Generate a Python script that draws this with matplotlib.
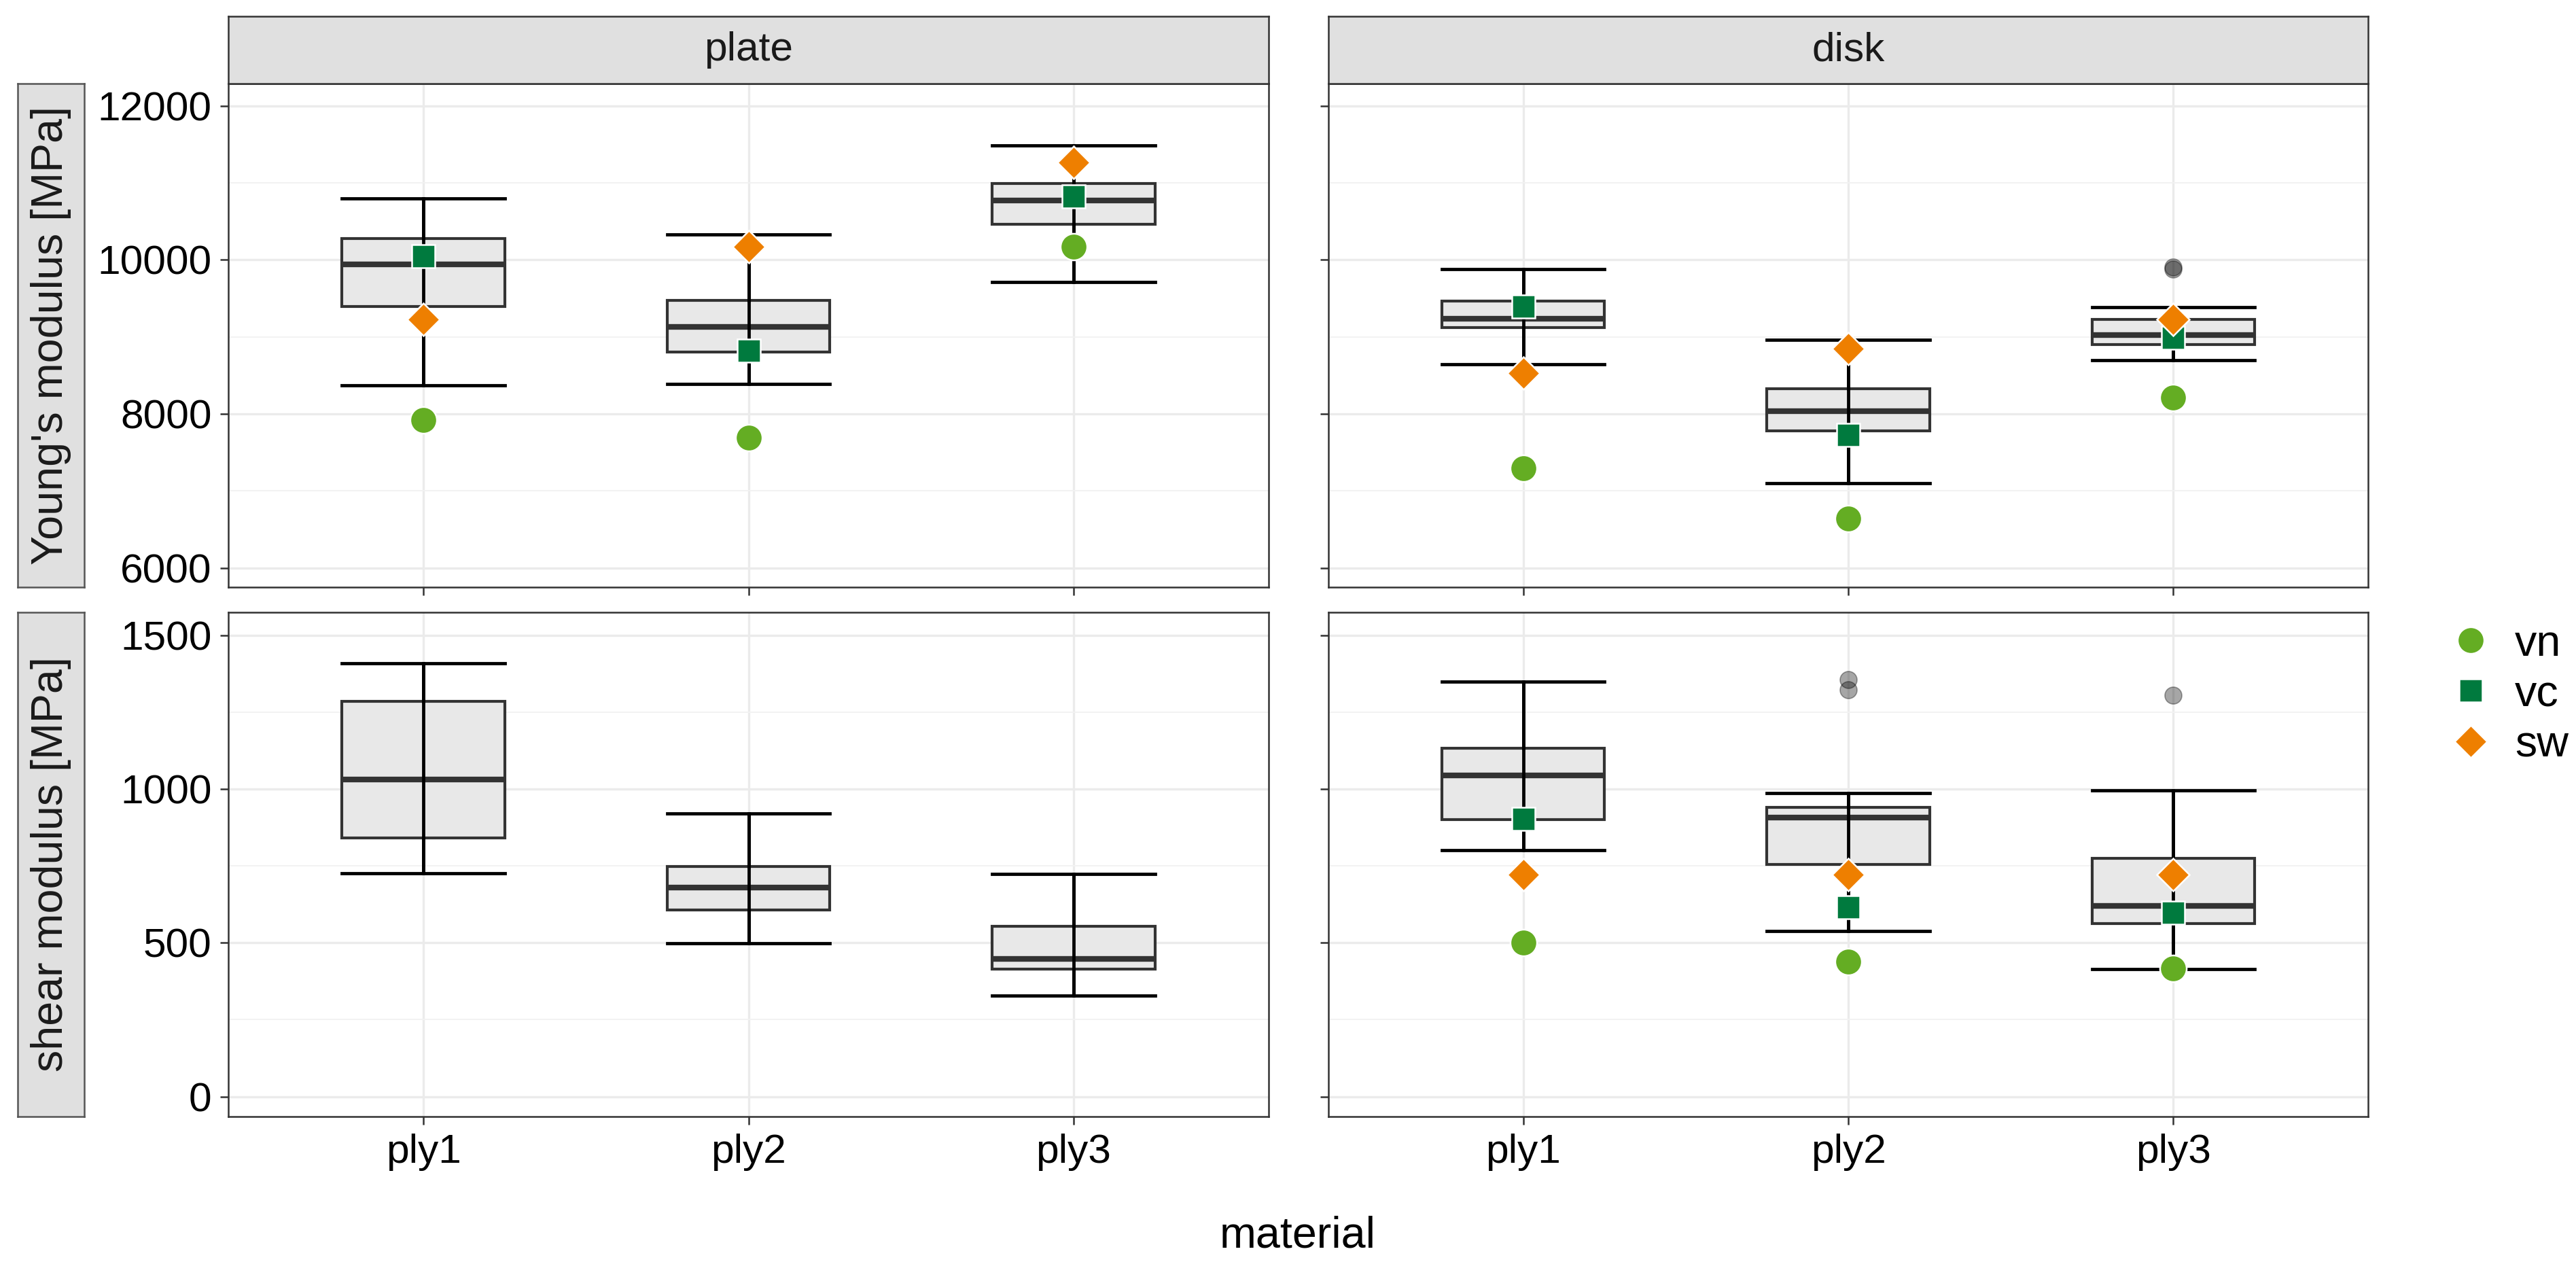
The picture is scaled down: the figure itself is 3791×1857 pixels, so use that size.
import matplotlib
matplotlib.use("Agg")
import matplotlib.pyplot as plt
from matplotlib.lines import Line2D
from matplotlib.ticker import MultipleLocator, FixedLocator

plt.rcParams['font.family'] = ['Liberation Sans', 'DejaVu Sans']

# ---------------- data ----------------
materials = ["ply1", "ply2", "ply3"]
shapes = ["plate", "disk"]
row_labels = ["Young's modulus [MPa]", "shear modulus [MPa]"]
series = ["vn", "vc", "sw"]

# box statistics: [whisker low, q1, median, q3, whisker high]
plate_E_stats = [[8368, 9396, 9936, 10276, 10795],
                 [8389, 8802, 9133, 9477, 10332],
                 [9711, 10459, 10773, 10986, 11487]]
disk_E_stats = [[8644, 9120, 9235, 9465, 9881],
                [7101, 7781, 8036, 8330, 8959],
                [8695, 8895, 9023, 9227, 9388]]
plate_G_stats = [[726, 842, 1032, 1286, 1410],
                 [499, 607, 679, 748, 920],
                 [328, 414, 447, 553, 724]]
disk_G_stats = [[802, 900, 1044, 1132, 1349],
                [539, 754, 908, 941, 986],
                [414, 562, 620, 775, 996]]

plate_E_out = [[], [], []]
disk_E_out = [[], [], [9905, 9875]]
plate_G_out = [[], [], []]
disk_G_out = [[], [1356, 1323], [1306]]

# model points per material (ply1, ply2, ply3)
plate_E_vn = [7917, 7688, 10170]
plate_E_vc = [10047, 8823, 10820]
plate_E_sw = [9227, 10170, 11266]
disk_E_vn = [7293, 6643, 8215]
disk_E_vc = [9397, 7730, 8989]
disk_E_sw = [8525, 8844, 9227]
disk_G_vn = [500, 438, 416]
disk_G_vc = [903, 615, 598]
disk_G_sw = [722, 722, 722]

E_ticks = [6000, 8000, 10000, 12000]
G_ticks = [0, 500, 1000, 1500]

# ---------------- styles ----------------
W, H = 3791, 1857
DPI = 300
colors = {"vn": "#64AD23", "vc": "#007A3E", "sw": "#EE7F00"}
markers = {"vn": "o", "vc": "s", "sw": "D"}
msizes = {"vn": 9.4, "vc": 8.2, "sw": 8.0}

fig = plt.figure(figsize=(W / DPI, H / DPI), dpi=DPI)


def frac(x0, y0, x1, y1):
    return [x0 / W, 1 - y1 / H, (x1 - x0) / W, (y1 - y0) / H]


panel_px = {
    (0, 0): (336, 123, 1867, 864),
    (0, 1): (1955, 123, 3485, 864),
    (1, 0): (336, 901, 1867, 1643),
    (1, 1): (1955, 901, 3485, 1643),
}

stats_grid = {
    (0, 0): (plate_E_stats, plate_E_out, None),
    (0, 1): (disk_E_stats, disk_E_out, (disk_E_vn, disk_E_vc, disk_E_sw)),
    (1, 0): (plate_G_stats, plate_G_out, None),
    (1, 1): (disk_G_stats, disk_G_out, (disk_G_vn, disk_G_vc, disk_G_sw)),
}
points_override = {(0, 0): (plate_E_vn, plate_E_vc, plate_E_sw)}

ylims = {0: (5750, 12287), 1: (-65, 1575)}
yticks = {0: E_ticks, 1: G_ticks}
yminor = {0: 1000, 1: 250}

pos = [1, 2, 3]
border = "#333333"

for (r, c), px in panel_px.items():
    ax = fig.add_axes(frac(*px))
    st, outs, pts = stats_grid[(r, c)]
    if (r, c) in points_override:
        pts = points_override[(r, c)]
    bstats = []
    for i, s in enumerate(st):
        bstats.append(dict(whislo=s[0], q1=s[1], med=s[2], q3=s[3],
                           whishi=s[4], fliers=outs[i]))
    ax.bxp(bstats, positions=pos, widths=0.5, capwidths=0.5,
           patch_artist=True, showfliers=True,
           boxprops=dict(facecolor="#e8e8e8", edgecolor=border, linewidth=1.0),
           medianprops=dict(color=border, linewidth=2.0, solid_capstyle="butt"),
           whiskerprops=dict(color="black", linewidth=1.15),
           capprops=dict(color="black", linewidth=1.15),
           flierprops=dict(marker="o", markerfacecolor="black", markeredgecolor="black",
                           alpha=0.35, markersize=6.0, markeredgewidth=0.4),
           zorder=2)
    # full-range error bar line drawn over the box
    ax.vlines(pos, [s[0] for s in st], [s[4] for s in st],
              colors="black", linewidth=1.15, zorder=3)
    if pts is not None:
        for name, vals in zip(series, pts):
            ax.plot(pos, vals, linestyle="none", marker=markers[name],
                    markersize=msizes[name], markerfacecolor=colors[name],
                    markeredgecolor="white", markeredgewidth=0.6, zorder=5)

    ax.set_xlim(0.4, 3.6)
    ax.set_ylim(*ylims[r])
    ax.yaxis.set_major_locator(FixedLocator(yticks[r]))
    ax.yaxis.set_minor_locator(MultipleLocator(yminor[r]))
    ax.set_xticks(pos)
    ax.set_xticklabels(materials if r == 1 else [])
    if c == 1:
        ax.set_yticklabels([])
    else:
        ax.set_yticklabels([str(v) for v in yticks[r]])
    ax.set_axisbelow(True)
    ax.grid(True, which="major", color="#ebebeb", linewidth=0.8)
    ax.grid(True, which="minor", axis="y", color="#f2f2f2", linewidth=0.45)
    ax.tick_params(which="major", length=2.9, width=0.6, color=border,
                   labelsize=14.5, labelcolor="black", pad=3.0)
    ax.tick_params(which="minor", length=0)
    for sp in ax.spines.values():
        sp.set_color(border)
        sp.set_linewidth(0.6)
        sp.set_zorder(6)
    ax.set_facecolor("white")

# top strips
strip_top = {0: (336, 24, 1867, 123), 1: (1955, 24, 3485, 123)}
for c, px in strip_top.items():
    sax = fig.add_axes(frac(*px))
    sax.set_facecolor("#e0e0e0")
    sax.set_xticks([])
    sax.set_yticks([])
    for sp in sax.spines.values():
        sp.set_color(border)
        sp.set_linewidth(0.6)
    sax.text(0.5, 0.5, shapes[c], ha="center", va="center", fontsize=14.5,
             color="#1a1a1a", transform=sax.transAxes)

# left strips
strip_left = {0: (26, 123, 124, 864), 1: (26, 901, 124, 1643)}
for r, px in strip_left.items():
    sax = fig.add_axes(frac(*px))
    sax.set_facecolor("#e0e0e0")
    sax.set_xticks([])
    sax.set_yticks([])
    for sp in sax.spines.values():
        sp.set_color("#555555")
        sp.set_linewidth(0.6)
    sax.text(0.5, 0.5, row_labels[r], ha="center", va="center", fontsize=15.5,
             rotation=90, color="#1a1a1a", transform=sax.transAxes)

# x axis title
fig.text(1910 / W, 1 - 1835 / H, "material", ha="center", va="baseline", fontsize=15.5)

# legend
handles = [Line2D([], [], linestyle="none", marker=markers[n], markersize=msizes[n],
                  markerfacecolor=colors[n], markeredgecolor="white",
                  markeredgewidth=0.6) for n in series]
fig.legend(handles, series, loc="center left",
           bbox_to_anchor=(3604 / W, 1 - 1022 / H), frameon=False,
           fontsize=15.5, handlelength=1.0, handletextpad=0.5,
           labelspacing=0.22, borderpad=0, borderaxespad=0)

fig.savefig("out.png", dpi=DPI, facecolor="white")
